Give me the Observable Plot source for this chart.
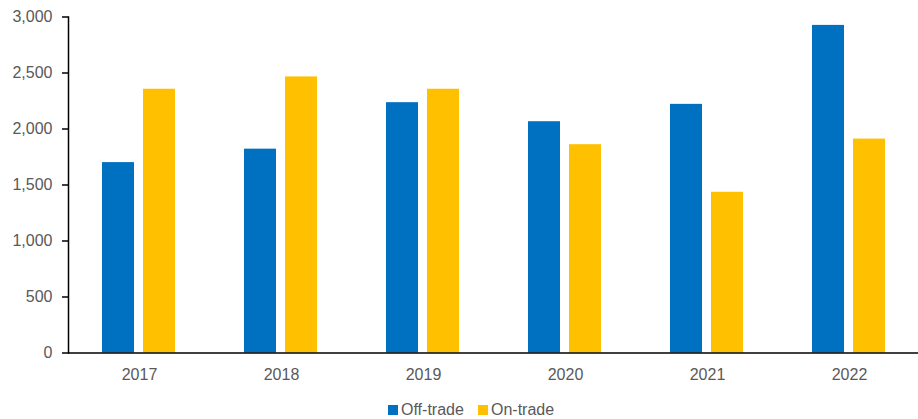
<!DOCTYPE html>
<html>
<head>
<meta charset="utf-8">
<script src="https://cdn.jsdelivr.net/npm/d3@7"></script>
<script src="https://cdn.jsdelivr.net/npm/@observablehq/plot@0.6"></script>
<style>
  html, body { margin: 0; padding: 0; background: #fff; }
  body { width: 918px; height: 419px; overflow: hidden; font-family: "Liberation Sans", Arial, sans-serif; }
  #legend { height: 27px; position: relative; }
  .item { position: absolute; top: 9px; display: flex; align-items: center; font-size: 16px; color: #595959; line-height: 18px; }
  .sw { width: 10px; height: 10px; margin-right: 3px; }
</style>
</head>
<body>
<div id="chart"></div>
<div id="legend"></div>
<script>
const years = ["2017", "2018", "2019", "2020", "2021", "2022"];
const offTrade = [1700, 1820, 2235, 2065, 2220, 2925];
const onTrade = [2355, 2465, 2355, 1860, 1435, 1910];
const seriesNames = ["Off-trade", "On-trade"];
const seriesColors = ["#0070C0", "#FFC000"];
const yTicks = [0, 500, 1000, 1500, 2000, 2500, 3000];

const offData = years.map((y, i) => ({year: y, value: offTrade[i], series: seriesNames[0]}));
const onData = years.map((y, i) => ({year: y, value: onTrade[i], series: seriesNames[1]}));

const bandW = 142;
const gapFromEdge = 34, barW = 32, gap = 9;
const font = "'Liberation Sans', Arial, sans-serif";

const plot = Plot.plot({
  width: 918,
  height: 392,
  marginLeft: 68,
  marginRight: 0,
  marginTop: 16.5,
  marginBottom: 39.5,
  style: {fontFamily: font, fontSize: "16px", color: "#595959", background: "#fff"},
  x: {domain: years, padding: 0, range: [68, 68 + bandW * years.length], label: null},
  y: {domain: [0, 3000], label: null},
  marks: [
    Plot.barY(offData, {x: "year", y: "value", fill: seriesColors[0],
      insetLeft: gapFromEdge, insetRight: bandW - gapFromEdge - barW}),
    Plot.barY(onData, {x: "year", y: "value", fill: seriesColors[1],
      insetLeft: gapFromEdge + barW + gap, insetRight: bandW - gapFromEdge - 2 * barW - gap}),
    Plot.axisY({ticks: yTicks, tickFormat: d3.format(","), tickSize: 6, tickPadding: 10, stroke: "#000", strokeWidth: 1.5, fill: "#595959", fontSize: 16, label: null}),
    Plot.axisX({tickSize: 0, tickPadding: 16, fill: "#595959", fontSize: 16, label: null}),
    Plot.frame({anchor: "left", stroke: "#000", strokeWidth: 1.5}),
    Plot.ruleY([0], {stroke: "#000", strokeWidth: 1.5})
  ]
});
document.getElementById("chart").appendChild(plot);

const legend = document.getElementById("legend");
const lefts = [388, 478];
seriesNames.forEach((name, i) => {
  const it = document.createElement("div");
  it.className = "item";
  it.style.left = lefts[i] + "px";
  it.innerHTML = `<span class="sw" style="background:${seriesColors[i]}"></span><span>${name}</span>`;
  legend.appendChild(it);
});
</script>
</body>
</html>
